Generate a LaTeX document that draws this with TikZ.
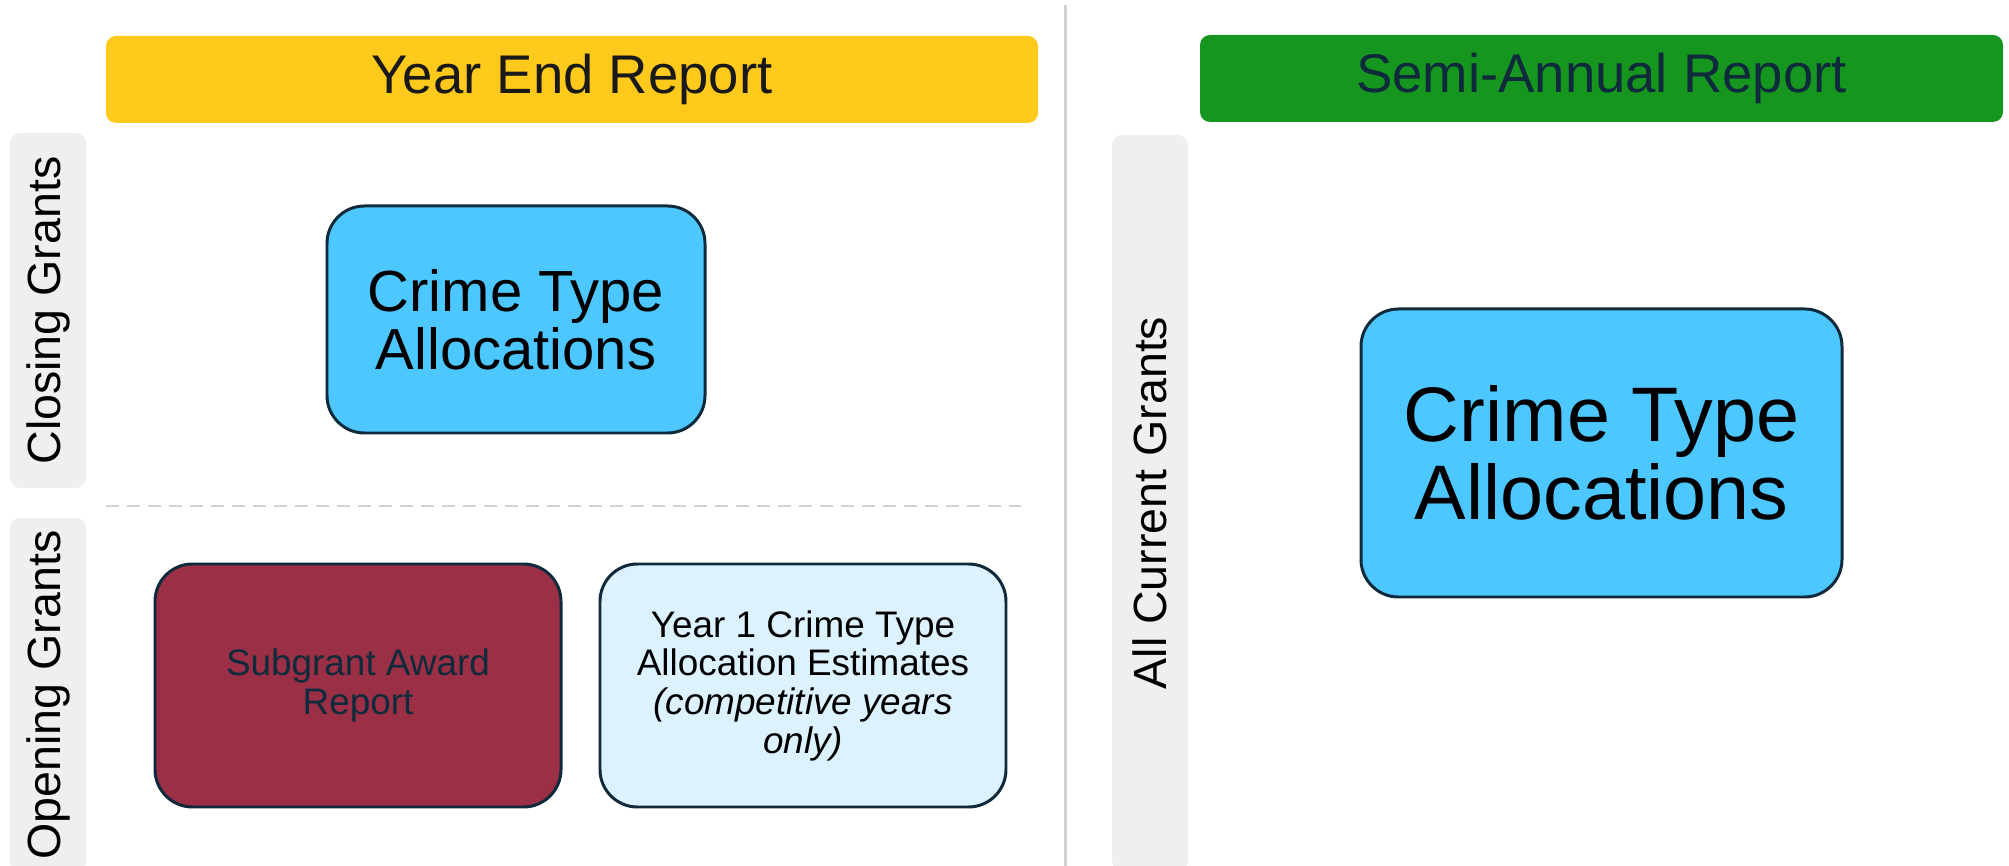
\documentclass[tikz,border=0pt]{standalone}
\usepackage{fontspec}
\setmainfont{Liberation Sans}
\usepackage{tikz}
\usetikzlibrary{positioning}
\usepackage{xcolor}

\definecolor{bannerYellow}{HTML}{FFCA1B}
\definecolor{bannerGreen}{HTML}{16961F}
\definecolor{crimeBlue}{HTML}{4CC7FF}
\definecolor{paleBlue}{HTML}{DCF2FE}
\definecolor{awardRed}{HTML}{9A2F46}
\definecolor{edgeNavy}{HTML}{0E2A3B}
\definecolor{barGray}{HTML}{EFEFEF}
\definecolor{lineGray}{HTML}{D2D2D2}

\begin{document}
\begin{tikzpicture}
  \tikzset{
banner/.style={rounded corners=0.2cm,
  minimum height=1.74cm,
    align=center,
    font=\fontsize{31}{36}\selectfont},
sidebar/.style={fill=barGray, rounded corners=0.2cm,
  rotate=90,
    minimum height=1.52cm,
    font=\fontsize{26.5}{30}\selectfont},
box/.style={draw=edgeNavy, line width=1.7pt,
  rounded corners=0.75cm,
    align=center},
}

  \clip (0,0) rectangle (40.18,17.32);

  % column headers
  \node [banner, fill=bannerYellow, text=black!90, minimum width=18.64cm] (yearend) at (11.44,15.73) {Year End Report};
  \node [banner, fill=bannerGreen, text=edgeNavy, minimum width=16.06cm] (semiannual) at (32.03,15.75) {Semi-Annual Report};

  % row labels
  \node [sidebar, minimum width=7.10cm] (closing) at (0.96,11.11) {Closing Grants};
  \node [sidebar, minimum width=7.08cm] (opening) at (0.96,3.42) {Opening Grants};
  \node [sidebar, minimum width=14.72cm] (allcurrent) at (23.00,7.26) {All Current Grants};

  % separators
  \draw [lineGray, line width=1.7pt] (21.30,0) -- (21.30,17.22);
  \draw [lineGray, line width=1.5pt, dash pattern=on 0.26cm off 0.16cm] (2.12,7.20) -- (20.42,7.20);

  % Nodes
  \node [box, fill=crimeBlue, minimum width=7.56cm, minimum height=4.54cm,
    font=\fontsize{33}{33}\selectfont] (crimeyear) at (10.32,10.93) {Crime Type\\Allocations};
  \node [box, fill=awardRed, text=edgeNavy, minimum width=8.12cm, minimum height=4.86cm,
    font=\fontsize{21}{22}\selectfont] (subgrant) at (7.16,3.61) {Subgrant Award\\Report};
  \node [box, fill=paleBlue, right=0.72 of subgrant, minimum width=8.12cm, minimum height=4.86cm,
    font=\fontsize{21}{22}\selectfont] (yearone) {Year 1 Crime Type\\Allocation Estimates\\\textit{(competitive years}\\\textit{only)}};
  \node [box, fill=crimeBlue, minimum width=9.62cm, minimum height=5.76cm,
    font=\fontsize{44}{44}\selectfont] (crimesemi) at (32.03,8.26) {Crime Type\\Allocations};
\end{tikzpicture}
\end{document}
